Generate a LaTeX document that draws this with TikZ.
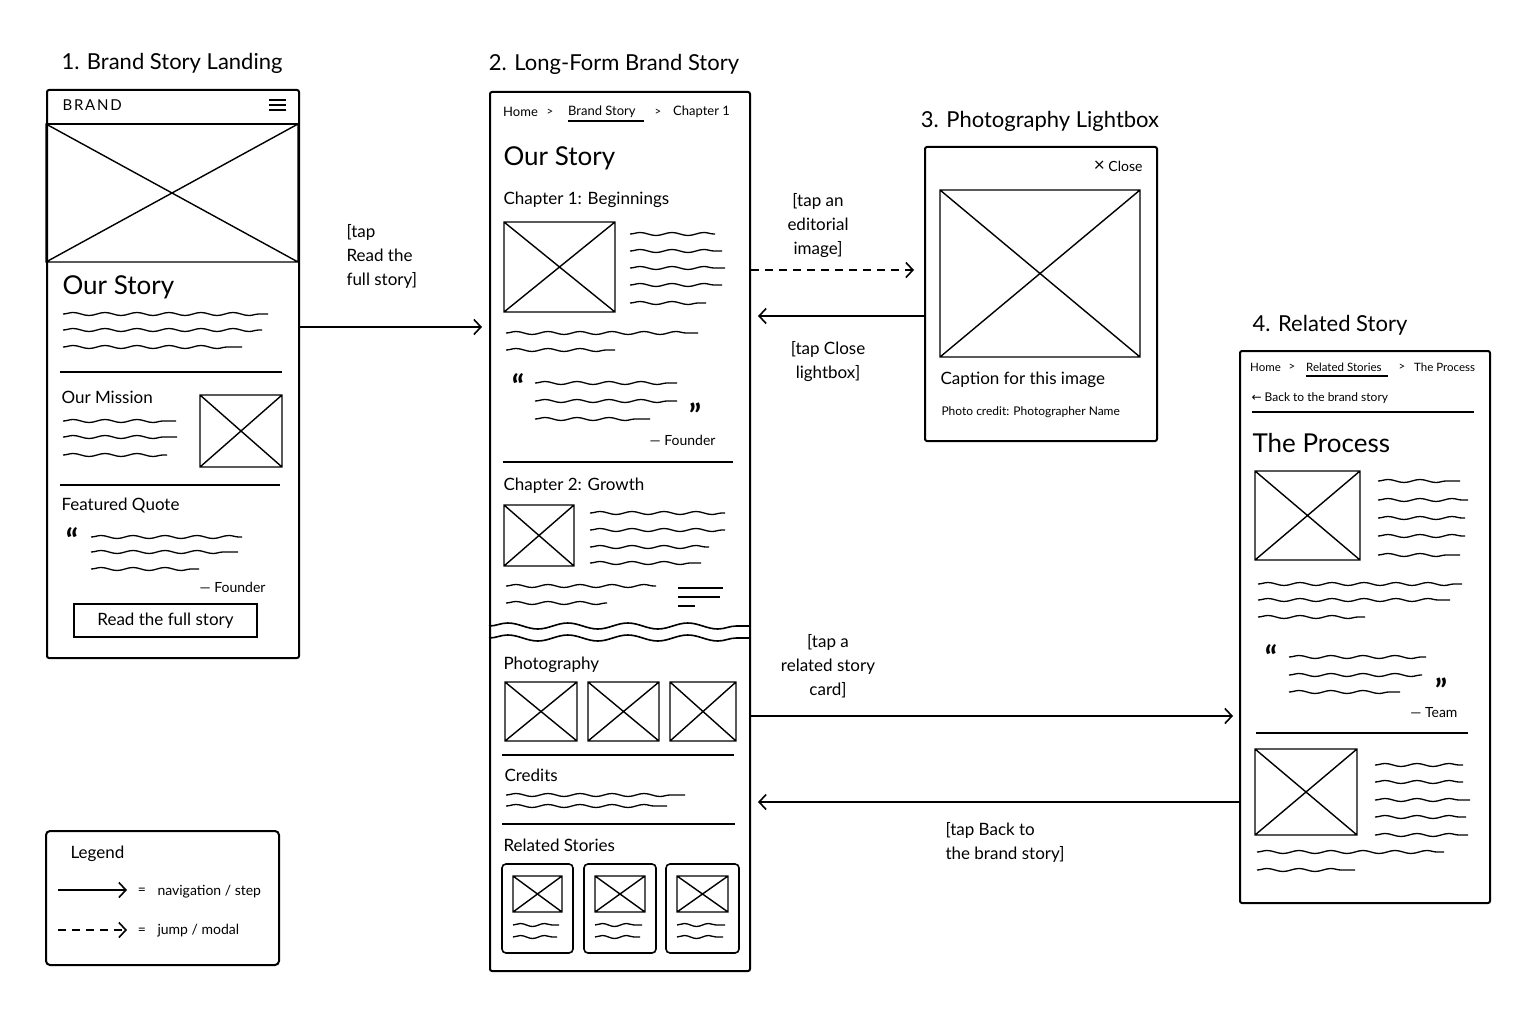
\documentclass[tikz,border=0pt]{standalone}
\usepackage{fontspec}
\setmainfont{Lato}
\newfontfamily\symfont{DejaVu Sans}
\usetikzlibrary{arrows.meta,decorations.pathmorphing}

% image placeholder: box with a cross
\newcommand\xbox[4]{\draw[imgbox] (#1,#2) rectangle (#3,#4) (#1,#2) -- (#3,#4) (#1,#4) -- (#3,#2);}

\begin{document}
\begin{tikzpicture}[x=1pt,y=-1pt,
	screen/.style={draw,line width=2pt,rounded corners=2pt,anchor=north west,inner sep=0pt},
	rule/.style={line width=1.5pt},
	imgbox/.style={line width=1.4pt},
	squig/.style={line width=1.3pt,decorate,decoration={snake,segment length=32pt,amplitude=1.5pt}},
	torn/.style={line width=1.6pt,decorate,decoration={snake,segment length=60pt,amplitude=3pt}},
	nav/.style={line width=1.6pt,-{Straight Barb[length=7pt,width=15pt,line width=1.6pt]}},
	jump/.style={nav,dash pattern=on 8pt off 6pt},
	title/.style={font=\fontsize{22}{24}\selectfont},
	big/.style={font=\fontsize{26}{30}\selectfont,anchor=west},
	lbl/.style={font=\fontsize{17}{19}\selectfont,anchor=west},
	small/.style={font=\fontsize{14}{16}\selectfont},
	tiny/.style={font=\fontsize{12}{14}\selectfont},
	crumb/.style={font=\fontsize{11.5}{13}\selectfont},
	quote/.style={font=\fontsize{32}{32}\bfseries\selectfont,inner sep=0pt},
	note/.style={font=\fontsize{17}{24}\selectfont}]
	\useasboundingbox (0,0) rectangle (1536,1024);
	%屏幕框
	\node[screen,minimum width=252pt,minimum height=568pt] (land) at (46,89) {};
	\node[screen,minimum width=260pt,minimum height=879pt] (story) at (489,91) {};
	\node[screen,minimum width=232pt,minimum height=294pt] (lightbox) at (924,146) {};
	\node[screen,minimum width=250pt,minimum height=552pt] (related) at (1239,350) {};
	\node[screen,rounded corners=4pt,minimum width=233pt,minimum height=134pt] (legend) at (45,830) {};
	\node[title] (t1) at (172,63) {1. Brand Story Landing};
	\node[title] (t2) at (614,64) {2. Long-Form Brand Story};
	\node[title] (t3) at (1040,121) {3. Photography Lightbox};
	\node[title] (t4) at (1330,325) {4. Related Story};
	%1 landing
	\draw[rule] (46,124) -- (298,124);
	\node[font=\fontsize{15}{16}\selectfont\addfontfeature{LetterSpace=12},anchor=west] (brand) at (59,105) {BRAND};
	\foreach \y in {100,105,110}
		\draw[line width=1.5pt] (269,\y) -- (286,\y);
	\xbox{46}{124}{298}{262}
	\node[big] (ourstory1) at (59,287) {Our Story};
	\foreach \y/\xe in {314/268,330/262,347/242}
		\draw[squig] (63,\y) -- (\xe,\y);
	\draw[rule] (60,372) -- (282,372);
	\node[lbl] (mission) at (58,397) {Our Mission};
	\foreach \y/\xe in {421/176,437/177,455/167}
		\draw[squig] (63,\y) -- (\xe,\y);
	\xbox{200}{395}{282}{467}
	\draw[rule] (60,485) -- (280,485);
	\node[lbl] (featured) at (58,505) {Featured Quote};
	\node[quote] (q1) at (72,540) {“};
	\foreach \y/\xe in {537/242,552/238,569/199}
		\draw[squig] (91,\y) -- (\xe,\y);
	\node[small,anchor=east] (founder1) at (269,587) {— Founder};
	\node[lbl,draw,line width=1.6pt,minimum width=183pt,minimum height=33pt,anchor=center] (readbtn) at (165.5,620.5) {Read the full story};
	%2 long-form story
	\node[crumb,anchor=west,inner xsep=0pt] (home2) at (503,112) {\fontsize{13}{15}\selectfont Home};
	\node[crumb] (gt2a) at (550,112) {>};
	\node[crumb,anchor=west,inner xsep=0pt] (crumb2) at (568,112) {\fontsize{13}{15}\selectfont Brand Story};
	\draw[line width=1.2pt] (568,121) -- (644,121);
	\node[crumb] (gt2b) at (658,112) {>};
	\node[crumb,anchor=west,inner xsep=0pt] (chap) at (673,112) {\fontsize{13}{15}\selectfont Chapter 1};
	\node[big] (ourstory2) at (500,158) {Our Story};
	\node[lbl] (ch1) at (500,200) {Chapter 1: Beginnings};
	\xbox{504}{222}{615}{312}
	\foreach \y/\xe in {234/715,251/722,268/725,285/722,303/706}
		\draw[squig] (630,\y) -- (\xe,\y);
	\foreach \y/\xe in {333/698,350/615}
		\draw[squig] (506,\y) -- (\xe,\y);
	\node[quote] (q2a) at (518,386) {“};
	\foreach \y/\xe in {383/677,401/677,419/650}
		\draw[squig] (535,\y) -- (\xe,\y);
	\node[quote] (q2b) at (695,415) {”};
	\node[small,anchor=east] (founder2) at (719,440) {— Founder};
	\draw[rule] (503,462) -- (733,462);
	\node[lbl] (ch2) at (500,486) {Chapter 2: Growth};
	\xbox{504}{505}{574}{566}
	\foreach \y/\xe in {513/725,530/725,547/709,563/701}
		\draw[squig] (590,\y) -- (\xe,\y);
	\foreach \y/\xe in {586/656,603/607}
		\draw[squig] (506,\y) -- (\xe,\y);
	\foreach \y/\xe in {588/723,597/720,606/695}
		\draw[line width=1.3pt] (678,\y) -- (\xe,\y);
	\draw[torn] (489,626) -- (749,626);
	\draw[torn] (489,638) -- (749,638);
	\node[lbl] (photo) at (500,665) {Photography};
	\foreach \xa/\xb in {505/577,588/659,670/736}
		\xbox{\xa}{682}{\xb}{741}
	\draw[rule] (502,755) -- (734,755);
	\node[lbl] (credits) at (501,775) {Credits};
	\foreach \y/\xe in {795/685,806/667}
		\draw[squig] (506,\y) -- (\xe,\y);
	\draw[rule] (502,824) -- (735,824);
	\node[lbl] (relstories) at (500,845) {Related Stories};
	\foreach \xa/\xb in {502/573,584/656,666/739}
	{
		\draw[line width=1.6pt,rounded corners=4pt] (\xa,864) rectangle (\xb,953);
		\xbox{\xa+11}{876}{\xb-11}{912}
		\draw[squig,segment length=24pt] (\xa+11,925) -- (\xb-14,925);
		\draw[squig,segment length=24pt] (\xa+11,937) -- (\xb-16,937);
	}
	%3 lightbox
	\node[small,anchor=east] (close) at (1146,166) {{\fontsize{19}{19}\selectfont ×} Close};
	\xbox{940}{190}{1140}{357}
	\node[lbl] (caption) at (937,380) {Caption for this image};
	\node[tiny,anchor=west] (credit) at (938,412) {Photo credit: Photographer Name};
	%4 related story
	\node[crumb,anchor=west,inner xsep=0pt] (home4) at (1250,367) {Home};
	\node[crumb] (gt4a) at (1292,367) {>};
	\node[crumb,anchor=west,inner xsep=0pt] (crumb4) at (1306,367) {Related Stories};
	\draw[line width=1.1pt] (1306,376) -- (1388,376);
	\node[crumb] (gt4b) at (1402,367) {>};
	\node[crumb,anchor=west,inner xsep=0pt] (proc) at (1414,367) {The Process};
	\node[tiny,anchor=west] (back) at (1248,398) {{\symfont\fontsize{12}{14}\selectfont ←} Back to the brand story};
	\draw[rule] (1252,412) -- (1474,412);
	\node[big] (theproc) at (1249,443) {The Process};
	\xbox{1255}{471}{1360}{560}
	\foreach \y/\xe in {481/1460,500/1468,518/1465,536/1465,555/1460}
		\draw[squig] (1378,\y) -- (\xe,\y);
	\foreach \y/\xe in {584/1462,600/1450,617/1365}
		\draw[squig] (1258,\y) -- (\xe,\y);
	\node[quote] (q4a) at (1271,657) {“};
	\foreach \y/\xe in {657/1426,675/1422,692/1400}
		\draw[squig] (1289,\y) -- (\xe,\y);
	\node[quote] (q4b) at (1441,690) {”};
	\node[small,anchor=east] (team) at (1461,713) {— Team};
	\draw[rule] (1256,733) -- (1468,733);
	\xbox{1255}{749}{1357}{835}
	\foreach \y/\xe in {765/1463,782/1463,800/1470,817/1466,835/1468}
		\draw[squig] (1375,\y) -- (\xe,\y);
	\foreach \y/\xe in {852/1444,870/1355}
		\draw[squig] (1257,\y) -- (\xe,\y);
	%图例
	\node[lbl] (legtitle) at (67,854) {Legend};
	\coordinate (l1a) at (58,890);
	\coordinate (l1b) at (127,890);
	\coordinate (l2a) at (58,930);
	\coordinate (l2b) at (127,930);
	\draw[nav] (l1a) -- (l1b);
	\draw[jump] (l2a) -- (l2b);
	\node[small] (eq1) at (142,891) {=};
	\node[small] (eq2) at (142,931) {=};
	\node[small,anchor=west] (navtxt) at (154,892) {navigation / step};
	\node[small,anchor=west] (jumptxt) at (154,931) {jump / modal};
	%箭头和说明
	\draw[nav,shorten >=7pt] (land.east |- 0,327) -- (story.west |- 0,327);
	\node[note,align=left,anchor=west] (n1) at (343,256) {[tap\\Read the\\full story]};
	\draw[jump,shorten >=10pt] (story.east |- 0,270) -- (lightbox.west |- 0,270);
	\node[note,align=center] (n2) at (818,226) {[tap an\\editorial\\image]};
	\draw[nav,shorten >=7pt] (lightbox.west |- 0,316) -- (story.east |- 0,316);
	\node[note,align=center] (n3) at (828,362) {[tap Close\\lightbox]};
	\draw[nav,shorten >=6pt] (story.east |- 0,716) -- (related.west |- 0,716);
	\node[note,align=center] (n4) at (828,666) {[tap a\\related story\\card]};
	\draw[nav,shorten >=7pt] (related.west |- 0,802) -- (story.east |- 0,802);
	\node[note,align=left,anchor=west] (n5) at (942,842) {[tap Back to\\the brand story]};
\end{tikzpicture}
\end{document}
